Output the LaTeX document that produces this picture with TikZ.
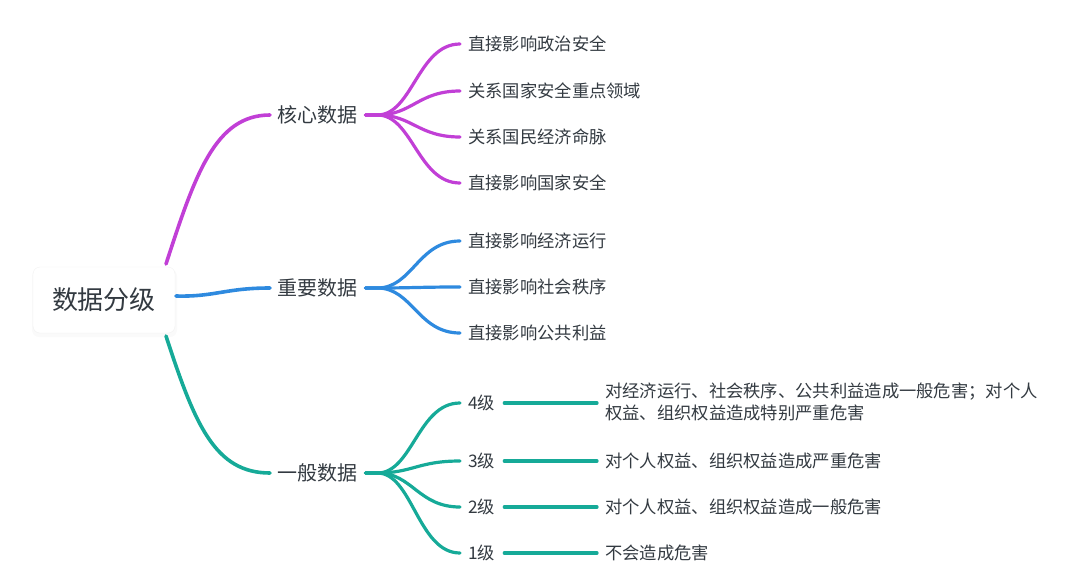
\documentclass[tikz,border=0pt]{standalone}
\usepackage{fontspec}
\setmainfont{Noto Sans CJK SC}
\begin{document}
\begin{tikzpicture}[x=1pt,y=-1pt,
  txt/.style={text=txtc,inner sep=0pt,anchor=west},
  lvone/.style={txt,font=\fontsize{20}{24}\selectfont},
  leaf/.style={txt,font=\fontsize{17.3}{22}\selectfont},
  conn/.style={line width=3.6pt,line cap=round},
  thin/.style={line width=3.2pt,line cap=round}]
\definecolor{txtc}{HTML}{333A41}
\definecolor{pur}{HTML}{C13FD6}
\definecolor{blu}{HTML}{2E8ADF}
\definecolor{tea}{HTML}{16AA98}
\useasboundingbox (0,0) rectangle (1080,579);
% root
\fill[black!2,rounded corners=7pt] (32,269) rectangle (177,337);
\node[draw=black!5,fill=white,rounded corners=7pt,minimum width=142pt,minimum height=66pt,
  text=txtc,font=\fontsize{26}{30}\selectfont] (root) at (104,300) {数据分级};
\coordinate (rtop) at (166,264);
\coordinate (rmid) at (176,296);
\coordinate (rbot) at (166,336);
% level one
\node[lvone] (core) at (277,115) {核心数据};
\node[lvone] (imp) at (277,288) {重要数据};
\node[lvone] (gen) at (277,473) {一般数据};
\draw[conn,pur] (rtop) .. controls (195,175) and (215,115) .. ([xshift=-7pt]core.west);
\draw[conn,blu] (rmid) .. controls (215,297) and (225,288) .. ([xshift=-7pt]imp.west);
\draw[conn,tea] (rbot) .. controls (195,425) and (215,473) .. ([xshift=-7pt]gen.west);
% core children
\node[leaf] (c1) at (468,44) {直接影响政治安全};
\node[leaf] (c2) at (468,91) {关系国家安全重点领域};
\node[leaf] (c3) at (468,137) {关系国民经济命脉};
\node[leaf] (c4) at (468,183) {直接影响国家安全};
\foreach \c in {c1,c2,c3,c4}
  \draw[thin,pur] ([xshift=8pt]core.east) -- ++(12,0) .. controls +(35,0) and ([xshift=-50pt]\c.west) .. ([xshift=-8pt]\c.west);
% important children
\node[leaf] (i1) at (468,241) {直接影响经济运行};
\node[leaf] (i2) at (468,287) {直接影响社会秩序};
\node[leaf] (i3) at (468,333) {直接影响公共利益};
\foreach \c in {i1,i2,i3}
  \draw[thin,blu] ([xshift=8pt]imp.east) -- ++(12,0) .. controls +(35,0) and ([xshift=-50pt]\c.west) .. ([xshift=-8pt]\c.west);
% general children
\node[leaf] (g4) at (468,403) {4级};
\node[leaf] (g3) at (468,461) {3级};
\node[leaf] (g2) at (468,507) {2级};
\node[leaf] (g1) at (468,553) {1级};
\foreach \c in {g4,g3,g2,g1}
  \draw[thin,tea] ([xshift=8pt]gen.east) -- ++(12,0) .. controls +(35,0) and ([xshift=-50pt]\c.west) .. ([xshift=-8pt]\c.west);
\node[leaf,align=left] (d4) at (605,402) {对经济运行、社会秩序、公共利益造成一般危害；对个人\\权益、组织权益造成特别严重危害};
\node[leaf] (d3) at (605,461) {对个人权益、组织权益造成严重危害};
\node[leaf] (d2) at (605,507) {对个人权益、组织权益造成一般危害};
\node[leaf] (d1) at (605,553) {不会造成危害};
\draw[thin,tea] ([xshift=9pt]g4.east) -- ([xshift=-8pt]d4.west |- g4.east);
\draw[thin,tea] ([xshift=9pt]g3.east) -- ([xshift=-8pt]d3.west);
\draw[thin,tea] ([xshift=9pt]g2.east) -- ([xshift=-8pt]d2.west);
\draw[thin,tea] ([xshift=9pt]g1.east) -- ([xshift=-8pt]d1.west);
\end{tikzpicture}
\end{document}
